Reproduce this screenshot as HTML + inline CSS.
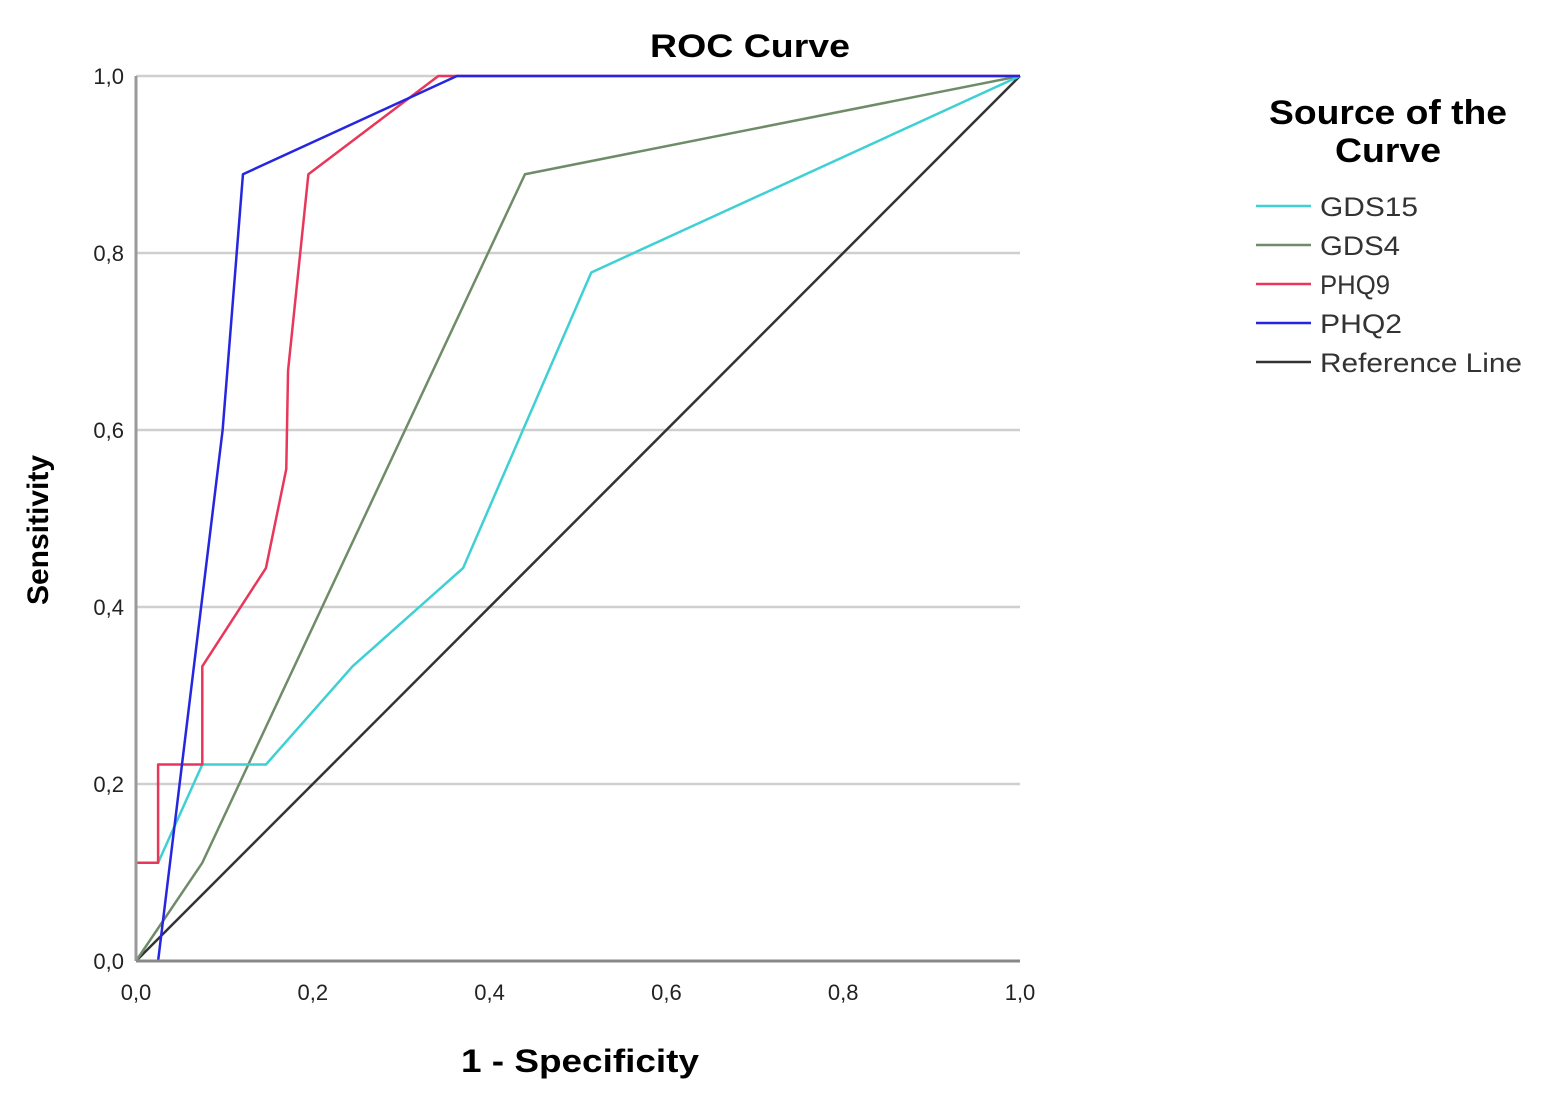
<!DOCTYPE html>
<html><head><meta charset="utf-8"><style>
body{margin:0;background:#fff;}
svg{display:block;font-family:"Liberation Sans",Arial,sans-serif;}
</style></head><body>
<svg id="c" width="1546" height="1102">
<text x="750" y="57" font-size="32" font-weight="bold" text-anchor="middle" textLength="200" lengthAdjust="spacingAndGlyphs">ROC Curve</text>
<text transform="translate(48,530) rotate(-90)" font-size="30" font-weight="bold" text-anchor="middle">Sensitivity</text>
<text x="580" y="1072" font-size="32" font-weight="bold" text-anchor="middle" textLength="238" lengthAdjust="spacingAndGlyphs">1 - Specificity</text>
<g id="grid"></g><g id="series"></g><g id="axes"></g>
<g>
<text x="1388" y="124" font-size="34" font-weight="bold" text-anchor="middle" textLength="238" lengthAdjust="spacingAndGlyphs">Source of the</text>
<text x="1388" y="162" font-size="34" font-weight="bold" text-anchor="middle" textLength="106" lengthAdjust="spacingAndGlyphs">Curve</text>
<g id="legend"></g>
</g>
</svg>
<script>
const xTicks=[0,0.2,0.4,0.6,0.8,1.0];
const yTicks=[0,0.2,0.4,0.6,0.8,1.0];
const tickLabels=["0,0","0,2","0,4","0,6","0,8","1,0"];
const seriesNames=["GDS15","GDS4","PHQ9","PHQ2","Reference Line"];
const gds15X=[0,0,0.025,0.075,0.147,0.245,0.37,0.515,1];
const gds15Y=[0,0.111,0.111,0.222,0.222,0.333,0.444,0.778,1];
const gds4X=[0,0.075,0.44,1];
const gds4Y=[0,0.111,0.889,1];
const phq9X=[0,0,0.025,0.025,0.075,0.075,0.147,0.17,0.172,0.195,0.342,1];
const phq9Y=[0,0.111,0.111,0.222,0.222,0.333,0.444,0.556,0.667,0.889,1,1];
const phq2X=[0,0.025,0.098,0.121,0.363,1];
const phq2Y=[0,0,0.6,0.889,1,1];
const refX=[0,1];
const refY=[0,1];
const colors=["#3fd0d4","#6f8c68","#e8375a","#2626e0","#333333"];
const legendWidths=[98,80,70,82,202];
const NS="http://www.w3.org/2000/svg";
const X=v=>136+884*v, Y=v=>961-885*v;
function mk(t,a,p){const e=document.createElementNS(NS,t);for(const k in a)e.setAttribute(k,a[k]);p.appendChild(e);return e;}
const grid=document.getElementById('grid'),axes=document.getElementById('axes'),ser=document.getElementById('series'),leg=document.getElementById('legend');
yTicks.forEach((v,i)=>{
 if(v>0){const l=mk('line',{x1:X(0),x2:X(1),y1:Y(v),y2:Y(v),stroke:'#cfcfcf','stroke-width':2.5},grid);
 
 }
 const t=mk('text',{x:124,y:Y(v)+8,'font-size':22,'text-anchor':'end',fill:'#222'},axes);t.textContent=tickLabels[i];
 
 
});
xTicks.forEach((v,i)=>{
 const t=mk('text',{x:X(v),y:1000,'font-size':22,'text-anchor':'middle',fill:'#222'},axes);t.textContent=tickLabels[i];
 
 
});
const ya=mk('line',{x1:X(0),x2:X(0),y1:Y(1),y2:Y(0),stroke:'#999','stroke-width':3},axes);


const xa=mk('line',{x1:X(0),x2:X(1),y1:Y(0),y2:Y(0),stroke:'#888','stroke-width':3},axes);


const data=[[gds15X,gds15Y],[gds4X,gds4Y],[phq9X,phq9Y],[phq2X,phq2Y],[refX,refY]];
const order=[4,1,0,2,3];
order.forEach(i=>{
 const [xs,ys]=data[i];
 const p=mk('polyline',{points:xs.map((x,j)=>X(x)+','+Y(ys[j])).join(' '),fill:'none',stroke:colors[i],'stroke-width':2.5,'stroke-linejoin':'round'},ser);
 
 
});
seriesNames.forEach((n,i)=>{
 const y=206+39*i;
 const l=mk('line',{x1:1256,x2:1311,y1:y,y2:y,stroke:colors[i],'stroke-width':2.5},leg);
 
 
 const t=mk('text',{x:1320,y:y+10,'font-size':27,fill:'#333',textLength:legendWidths[i],lengthAdjust:'spacingAndGlyphs'},leg);t.textContent=n;
 
 
});
</script>
</body></html>
